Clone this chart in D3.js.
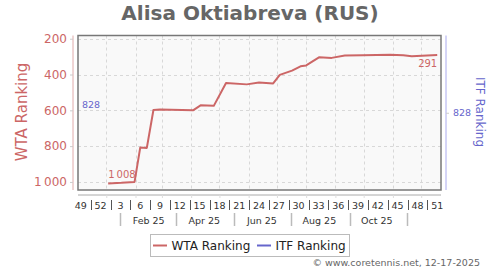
<!DOCTYPE html>
<html>
<head>
<meta charset="utf-8">
<script src="https://cdn.jsdelivr.net/npm/d3@7"></script>
<style>
  html, body { margin: 0; padding: 0; background: #fff; }
  svg { display: block; font-family: "DejaVu Sans", sans-serif; }
</style>
</head>
<body>
<svg id="chart" width="500" height="270"></svg>
<script>
// ---- data ----
const title = "Alisa Oktiabreva (RUS)";
const wtaDates = ["2025-01-03","2025-01-17","2025-01-31","2025-02-06","2025-02-13","2025-02-20","2025-02-27",
  "2025-04-03","2025-04-11","2025-04-25","2025-05-08","2025-05-30","2025-06-12","2025-06-27","2025-07-04",
  "2025-07-17","2025-07-26","2025-08-01","2025-08-15","2025-08-28","2025-09-11","2025-09-30","2025-10-29",
  "2025-11-12","2025-11-21","2025-12-18"];
const wtaRanks = [1008,1005,1000,808,810,598,595,600,572,575,447,455,445,450,402,378,354,349,303,307,294,292,290,292,298,291];
const itfValue = 828;
const yTicks = [200,400,600,800,1000];
const yTickLabels = ["200","400","600","800","1\u2009000"];
const weekLabels = ["49","52","3","6","9","12","15","18","21","24","27","30","33","36","39","42","45","48","51"];
const weekMidDates = ["2024-12-05","2024-12-26","2025-01-16","2025-02-06","2025-02-27","2025-03-20","2025-04-10",
  "2025-05-01","2025-05-22","2025-06-12","2025-07-03","2025-07-24","2025-08-14","2025-09-04","2025-09-25",
  "2025-10-16","2025-11-06","2025-11-27","2025-12-18"];
const monthLabels = ["Feb 25","Apr 25","Jun 25","Aug 25","Oct 25"];
const monthLabelDates = ["2025-02-15","2025-04-15","2025-06-15","2025-08-15","2025-10-15"];
const monthSepDates = ["2025-01-16","2025-03-16","2025-05-16","2025-07-16","2025-09-16","2025-11-16"];
const gridMonthDates = ["2025-01-01","2025-02-01","2025-03-01","2025-04-01","2025-05-01","2025-06-01",
  "2025-07-01","2025-08-01","2025-09-01","2025-10-01","2025-11-01","2025-12-01"];
const xDomain = ["2024-12-02","2025-12-22"];
const yDomain = [182, 1045];
const itfDomain = [728, 928];

// ---- layout ----
const parse = d3.utcParse("%Y-%m-%d");
const L = 78, R = 441, T = 35.5, B = 190;
const red = "#cc6666", blue = "#6666cc";

const svg = d3.select("#chart");
const x = d3.scaleUtc().domain(xDomain.map(parse)).range([L, R]);
const y = d3.scaleLinear().domain(yDomain).range([T, B]);
const yItf = d3.scaleLinear().domain(itfDomain).range([T, B]);

// title
svg.append("text").attr("x", 250).attr("y", 20).attr("text-anchor", "middle")
  .attr("font-size", 20).attr("font-weight", "bold").attr("fill", "#666").text(title);

// plot background
svg.append("rect").attr("x", L).attr("y", T).attr("width", R - L).attr("height", B - T)
  .attr("fill", "#f9f9f9");

// grid
const grid = svg.append("g").attr("stroke", "#d8d8d8").attr("stroke-dasharray", "3,3").attr("stroke-width", 1);
gridMonthDates.forEach(d => {
  const xx = Math.round(x(parse(d))) + 0.5;
  grid.append("line").attr("x1", xx).attr("x2", xx).attr("y1", T).attr("y2", B);
});
yTicks.forEach(v => {
  const yy = Math.round(y(v)) + 0.5;
  grid.append("line").attr("x1", L).attr("x2", R).attr("y1", yy).attr("y2", yy);
});

// frame
svg.append("rect").attr("x", L).attr("y", T).attr("width", R - L).attr("height", B - T)
  .attr("fill", "none").attr("stroke", "#777").attr("stroke-width", 1.5);

// left axis
const leftAxis = d3.axisLeft(y).tickValues(yTicks).tickSize(3).tickPadding(3)
  .tickFormat((d, i) => yTickLabels[i]);
const gl = svg.append("g").attr("transform", "translate(73,0)").call(leftAxis);
gl.select(".domain").attr("stroke", "#e0aaaa").attr("d", `M0,${T}V${B}`);
gl.selectAll(".tick line").attr("stroke", "#ccc");
gl.selectAll(".tick text").attr("fill", red).attr("font-size", 12)
  .attr("font-family", "DejaVu Sans, sans-serif");

// right axis (ITF)
const rightAxis = d3.axisRight(yItf).tickValues([itfValue]).tickSize(3).tickPadding(4);
const gr = svg.append("g").attr("transform", "translate(446,0)").call(rightAxis);
gr.select(".domain").attr("stroke", "#aaaaee").attr("d", `M0,${T}V${B}`);
gr.selectAll(".tick line").attr("stroke", "#ccc");
gr.selectAll(".tick text").attr("fill", blue).attr("font-size", 9.5)
  .attr("font-family", "DejaVu Sans, sans-serif");

// axis titles
svg.append("text").attr("transform", "translate(27,112) rotate(-90)").attr("text-anchor", "middle")
  .attr("font-size", 15).attr("fill", red).text("WTA Ranking");
svg.append("text").attr("transform", "translate(476,112) rotate(90)").attr("text-anchor", "middle")
  .attr("font-size", 12).attr("fill", blue).text("ITF Ranking");

// x axis line with month ticks
const xAxis = d3.axisBottom(x).tickValues(gridMonthDates.map(parse)).tickSize(3).tickFormat("");
const gx = svg.append("g").attr("transform", "translate(0,195)").call(xAxis);
gx.select(".domain").attr("stroke", "#aaa").attr("d", `M${L},0H${R}`);
gx.selectAll(".tick line").attr("stroke", "#ddd");

// week labels
const wk = svg.append("g").attr("font-size", 9.5).attr("fill", "#333").attr("text-anchor", "middle");
weekLabels.forEach((lab, i) => {
  wk.append("text").attr("x", x(parse(weekMidDates[i]))).attr("y", 208.5).text(lab);
  if (i < weekLabels.length - 1) {
    const xm = Math.round((x(parse(weekMidDates[i])) + x(parse(weekMidDates[i + 1]))) / 2) + 0.5;
    svg.append("line").attr("x1", xm).attr("x2", xm).attr("y1", 200).attr("y2", 210)
      .attr("stroke", "#555").attr("stroke-width", 1);
  }
});

// month labels
const mo = svg.append("g").attr("font-size", 9.5).attr("fill", "#333").attr("text-anchor", "middle");
monthLabels.forEach((lab, i) => {
  mo.append("text").attr("x", x(parse(monthLabelDates[i]))).attr("y", 224).text(lab);
});
monthSepDates.forEach(d => {
  const xm = Math.round(x(parse(d))) + 0.5;
  svg.append("line").attr("x1", xm).attr("x2", xm).attr("y1", 213).attr("y2", 226)
    .attr("stroke", "#bbb").attr("stroke-width", 1.5);
});

// WTA line
const pts = wtaDates.map((d, i) => ({ date: parse(d), rank: wtaRanks[i] }));
const line = d3.line().x(d => x(d.date)).y(d => y(d.rank));
svg.append("path").datum(pts).attr("d", line).attr("fill", "none")
  .attr("stroke", red).attr("stroke-width", 2).attr("stroke-linejoin", "round");

// annotations
const first = pts[0], last = pts[pts.length - 1];
svg.append("text").attr("x", x(first.date)).attr("y", y(first.rank) - 5)
  .attr("font-size", 10).attr("fill", red).text("1\u2009008");
svg.append("text").attr("x", x(last.date)).attr("y", y(last.rank) + 12).attr("text-anchor", "end")
  .attr("font-size", 10).attr("fill", red).text(String(last.rank));
svg.append("text").attr("x", L + 4).attr("y", 108).attr("font-size", 9.5).attr("fill", blue).text(String(itfValue));

// legend
const lg = svg.append("g");
lg.append("rect").attr("x", 150.5).attr("y", 234.5).attr("width", 199).attr("height", 22)
  .attr("fill", "#fff").attr("stroke", "#bbb");
lg.append("line").attr("x1", 153).attr("x2", 167).attr("y1", 245.5).attr("y2", 245.5).attr("stroke", red).attr("stroke-width", 2);
lg.append("text").attr("x", 171.5).attr("y", 250).attr("font-size", 12).attr("fill", "#222").text("WTA Ranking");
lg.append("line").attr("x1", 257).attr("x2", 271).attr("y1", 245.5).attr("y2", 245.5).attr("stroke", blue).attr("stroke-width", 2);
lg.append("text").attr("x", 275.5).attr("y", 250).attr("font-size", 12).attr("fill", "#222").text("ITF Ranking");

// copyright
svg.append("text").attr("x", 480).attr("y", 266).attr("text-anchor", "end")
  .attr("font-size", 9.5).attr("fill", "#666").text("\u00a9 www.coretennis.net, 12-17-2025");
</script>
</body>
</html>
